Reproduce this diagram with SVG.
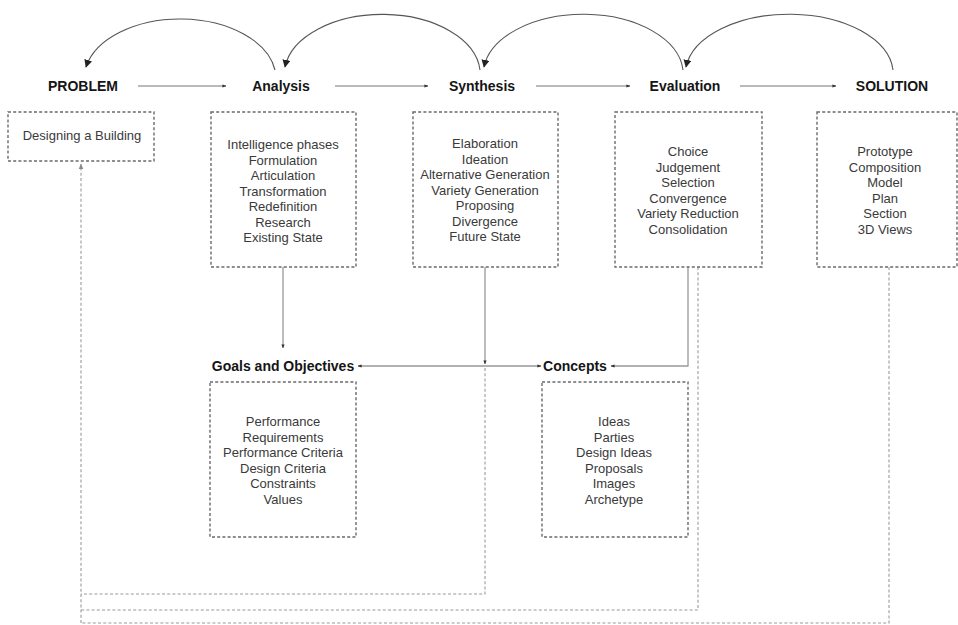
<svg xmlns="http://www.w3.org/2000/svg" width="958" height="625" viewBox="0 0 958 625">
  <defs>
    <marker id="tri" viewBox="0 0 10 10" refX="9" refY="5" markerWidth="8" markerHeight="8" orient="auto" markerUnits="userSpaceOnUse">
      <path d="M0,0 L10,5 L0,10 z" fill="#222"/>
    </marker>
    <marker id="dot" viewBox="0 0 10 10" refX="9" refY="5" markerWidth="4" markerHeight="4" orient="auto" markerUnits="userSpaceOnUse">
      <path d="M0,1 L10,5 L0,9 z" fill="#333"/>
    </marker>
    <marker id="dotStart" viewBox="0 0 10 10" refX="1" refY="5" markerWidth="4" markerHeight="4" orient="auto" markerUnits="userSpaceOnUse">
      <path d="M10,1 L0,5 L10,9 z" fill="#333"/>
    </marker>
    <marker id="up" viewBox="0 0 10 10" refX="9" refY="5" markerWidth="6" markerHeight="6" orient="auto" markerUnits="userSpaceOnUse">
      <path d="M0,1 L10,5 L0,9 z" fill="#888"/>
    </marker>
  </defs>
  <style>
    .bg { fill: #ffffff; }
    .head { font-family: "Liberation Sans", Arial, sans-serif; font-weight: bold; font-size: 14px; fill: #151515; text-anchor: middle; }
    .item { font-family: "Liberation Sans", Arial, sans-serif; font-size: 13px; fill: #3a3a3a; text-anchor: middle; }
    .box { fill: none; stroke: #6a6a6a; stroke-width: 1.4; stroke-dasharray: 3 2.2; }
    .arc { fill: none; stroke: #555; stroke-width: 1.1; }
    .flow { fill: none; stroke: #777; stroke-width: 1.1; }
    .solid { fill: none; stroke: #999; stroke-width: 1.3; }
    .dotted { fill: none; stroke: #9a9a9a; stroke-width: 1.1; stroke-dasharray: 3 2.2; }
  </style>

  <rect class="bg" x="0" y="0" width="958" height="625"/>

  <!-- connectors -->
  <g id="connectors">
    <!-- feedback arcs -->
    <path class="arc" d="M275,70 A96,60 0 0 0 86,67" marker-end="url(#tri)"/>
    <path class="arc" d="M480,70 A98,60 0 0 0 285,67" marker-end="url(#tri)"/>
    <path class="arc" d="M683,70 A100,60 0 0 0 484,67" marker-end="url(#tri)"/>
    <path class="arc" d="M893,70 A104,60 0 0 0 686,67" marker-end="url(#tri)"/>

    <!-- forward sequence -->
    <path class="flow" d="M138,86 H226" marker-end="url(#dot)"/>
    <path class="flow" d="M335,86 H428" marker-end="url(#dot)"/>
    <path class="flow" d="M536,86 H630" marker-end="url(#dot)"/>
    <path class="flow" d="M740,86 H836" marker-end="url(#dot)"/>

    <!-- branches to goals and concepts -->
    <path class="solid" d="M283,267 V348" marker-end="url(#dot)"/>
    <path class="solid" d="M485,267 V364" marker-end="url(#dot)"/>
    <path class="solid" d="M358,366 H541" marker-start="url(#dotStart)" marker-end="url(#dot)"/>
    <path class="solid" d="M688,267 V366 H611" marker-end="url(#dot)"/>

    <!-- dotted feedback lines back to the problem -->
    <path class="dotted" d="M485,368 V594 H81"/>
    <path class="dotted" d="M698,267 V610 H81"/>
    <path class="dotted" d="M889,267 V623 H81"/>
    <path class="dotted" d="M81,623 V164" marker-end="url(#up)"/>
  </g>

  <g id="problem">
    <text class="head" x="83" y="91">PROBLEM</text>
    <rect class="box" x="8" y="112" width="146" height="49"/>
    <text class="item" x="82" y="140">Designing a Building</text>
  </g>

  <g id="analysis">
    <text class="head" x="281" y="91">Analysis</text>
    <rect class="box" x="211" y="112" width="145" height="155"/>
    <text class="item" x="283" y="149">Intelligence phases</text>
    <text class="item" x="283" y="164.5">Formulation</text>
    <text class="item" x="283" y="180">Articulation</text>
    <text class="item" x="283" y="195.5">Transformation</text>
    <text class="item" x="283" y="211">Redefinition</text>
    <text class="item" x="283" y="226.5">Research</text>
    <text class="item" x="283" y="242">Existing State</text>
  </g>

  <g id="synthesis">
    <text class="head" x="482" y="91">Synthesis</text>
    <rect class="box" x="413" y="112" width="145" height="155"/>
    <text class="item" x="485" y="148">Elaboration</text>
    <text class="item" x="485" y="163.5">Ideation</text>
    <text class="item" x="485" y="179">Alternative Generation</text>
    <text class="item" x="485" y="194.5">Variety Generation</text>
    <text class="item" x="485" y="210">Proposing</text>
    <text class="item" x="485" y="225.5">Divergence</text>
    <text class="item" x="485" y="241">Future State</text>
  </g>

  <g id="evaluation">
    <text class="head" x="685" y="91">Evaluation</text>
    <rect class="box" x="615" y="112" width="147" height="155"/>
    <text class="item" x="688" y="156">Choice</text>
    <text class="item" x="688" y="171.5">Judgement</text>
    <text class="item" x="688" y="187">Selection</text>
    <text class="item" x="688" y="202.5">Convergence</text>
    <text class="item" x="688" y="218">Variety Reduction</text>
    <text class="item" x="688" y="233.5">Consolidation</text>
  </g>

  <g id="solution">
    <text class="head" x="892" y="91">SOLUTION</text>
    <rect class="box" x="817" y="112" width="140" height="155"/>
    <text class="item" x="885" y="156">Prototype</text>
    <text class="item" x="885" y="171.5">Composition</text>
    <text class="item" x="885" y="187">Model</text>
    <text class="item" x="885" y="202.5">Plan</text>
    <text class="item" x="885" y="218">Section</text>
    <text class="item" x="885" y="233.5">3D Views</text>
  </g>

  <g id="goals">
    <text class="head" x="283" y="371">Goals and Objectives</text>
    <rect class="box" x="210" y="382" width="146" height="155"/>
    <text class="item" x="283" y="426">Performance</text>
    <text class="item" x="283" y="441.5">Requirements</text>
    <text class="item" x="283" y="457">Performance Criteria</text>
    <text class="item" x="283" y="472.5">Design Criteria</text>
    <text class="item" x="283" y="488">Constraints</text>
    <text class="item" x="283" y="503.5">Values</text>
  </g>

  <g id="concepts">
    <text class="head" x="575" y="371">Concepts</text>
    <rect class="box" x="542" y="382" width="146" height="155"/>
    <text class="item" x="614" y="426">Ideas</text>
    <text class="item" x="614" y="441.5">Parties</text>
    <text class="item" x="614" y="457">Design Ideas</text>
    <text class="item" x="614" y="472.5">Proposals</text>
    <text class="item" x="614" y="488">Images</text>
    <text class="item" x="614" y="503.5">Archetype</text>
  </g>
</svg>
